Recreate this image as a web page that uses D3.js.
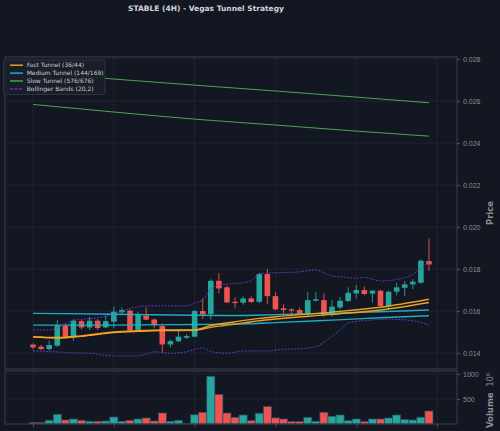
<!DOCTYPE html>
<html lang="en">
<head>
<meta charset="UTF-8">
<title>STABLE (4H) - Vegas Tunnel Strategy</title>
<script src="https://d3js.org/d3.v7.min.js"></script>
<style>
  body { margin: 0; background: #131722; }
  svg { display: block; font-family: "DejaVu Sans", sans-serif; }
  .axis path { display: none; }
  .axis line { stroke: #50545e; }
  .axis text { fill: #8a8e98; font-size: 7px; }
  .grid { stroke: #232733; stroke-width: 0.8; }
  .spine { fill: none; stroke: #363a45; stroke-width: 1.2; }
</style>
</head>
<body>
<svg id="chart" width="500" height="431"></svg>
<script>
// ---- data (50 x 4H candles) ----
const openP  = [0.01440,0.01430,0.01419,0.01435,0.01529,0.01481,0.01552,0.01522,0.01554,0.01522,
                0.01549,0.01594,0.01602,0.01510,0.01578,0.01560,0.01529,0.01441,0.01456,0.01473,
                0.01478,0.01600,0.01586,0.01744,0.01713,0.01644,0.01640,0.01660,0.01644,0.01776,
                0.01671,0.01613,0.01608,0.01605,0.01586,0.01649,0.01652,0.01581,0.01617,0.01648,
                0.01684,0.01700,0.01683,0.01697,0.01624,0.01692,0.01711,0.01727,0.01735,0.01838];
const highP  = [0.01446,0.01439,0.01459,0.01557,0.01541,0.01560,0.01560,0.01573,0.01562,0.01578,
                0.01621,0.01616,0.01608,0.01597,0.01618,0.01565,0.01541,0.01465,0.01510,0.01490,
                0.01605,0.01660,0.01751,0.01782,0.01722,0.01665,0.01670,0.01670,0.01782,0.01800,
                0.01690,0.01632,0.01613,0.01618,0.01690,0.01689,0.01684,0.01652,0.01668,0.01713,
                0.01724,0.01718,0.01700,0.01700,0.01697,0.01735,0.01744,0.01751,0.01846,0.01946];
const lowP   = [0.01418,0.01414,0.01411,0.01430,0.01475,0.01459,0.01513,0.01510,0.01510,0.01518,
                0.01518,0.01586,0.01502,0.01502,0.01557,0.01518,0.01399,0.01427,0.01454,0.01467,
                0.01476,0.01562,0.01560,0.01684,0.01638,0.01613,0.01630,0.01638,0.01637,0.01632,
                0.01605,0.01586,0.01586,0.01581,0.01576,0.01646,0.01573,0.01573,0.01608,0.01644,
                0.01660,0.01676,0.01640,0.01622,0.01605,0.01675,0.01671,0.01705,0.01730,0.01792];
const closeP = [0.01427,0.01419,0.01438,0.01532,0.01478,0.01554,0.01522,0.01554,0.01519,0.01552,
                0.01597,0.01605,0.01508,0.01581,0.01559,0.01533,0.01441,0.01457,0.01478,0.01481,
                0.01600,0.01584,0.01744,0.01708,0.01641,0.01638,0.01660,0.01643,0.01776,0.01671,
                0.01608,0.01605,0.01602,0.01586,0.01652,0.01656,0.01581,0.01621,0.01649,0.01687,
                0.01700,0.01681,0.01697,0.01624,0.01692,0.01713,0.01727,0.01740,0.01840,0.01822];
// volume in millions
const volume = [30,30,75,195,80,100,75,55,55,60,140,55,75,100,120,60,220,55,75,5,
                185,235,955,590,220,135,180,68,215,350,122,100,48,48,135,55,235,155,180,68,
                100,48,100,100,120,180,90,80,135,260];

// indicator lines, [candle index, price]
const fastA = [[0,0.01478],[3,0.01474],[6,0.01482],[10,0.01500],[13,0.01506],[16,0.01510],[20,0.01510],
               [22,0.01531],[25,0.01549],[28,0.01565],[30,0.01573],[37,0.01595],[43,0.01618],[49,0.01656]];
const fastB = [[0,0.01476],[3,0.01472],[6,0.01480],[10,0.01497],[13,0.01503],[16,0.01507],[20,0.01508],
               [22,0.01522],[25,0.01538],[28,0.01554],[30,0.01562],[37,0.01584],[43,0.01605],[49,0.01641]];
const medA  = [[0,0.01589],[10,0.01585],[20,0.01580],[25,0.01579],[30,0.01583],[37,0.01590],[43,0.01597],[49,0.01605]];
const medB  = [[0,0.01533],[10,0.01533],[20,0.01536],[25,0.01538],[30,0.01545],[37,0.01557],[43,0.01568],[49,0.01578]];
const slowA = [[0,0.02736],[10,0.02705],[20,0.02676],[30,0.02648],[40,0.02619],[49,0.02592]];
const slowB = [[0,0.02584],[10,0.02548],[20,0.02514],[30,0.02486],[40,0.02457],[49,0.02433]];
const bbUpper = [[0,0.01510],[2,0.01510],[3,0.01520],[5,0.01555],[8,0.01568],[10,0.01585],[12,0.01612],
                 [14,0.01625],[19,0.01625],[20,0.01638],[21,0.01652],[22,0.01705],[23,0.01724],[25,0.01731],
                 [26,0.01735],[27,0.01743],[28,0.01779],[30,0.01782],[33,0.01787],[35,0.01795],[36,0.01782],
                 [37,0.01767],[38,0.01764],[40,0.01756],[41,0.01760],[43,0.01743],[45,0.01751],[47,0.01775],
                 [48,0.01805],[49,0.01833]];
const bbLower = [[0,0.01410],[2,0.01407],[5,0.01401],[7,0.01399],[10,0.01386],[13,0.01386],[14,0.01394],
                 [15,0.01406],[17,0.01399],[19,0.01406],[21,0.01425],[22,0.01407],[24,0.01399],[26,0.01410],
                 [29,0.01410],[31,0.01418],[33,0.01421],[35,0.01430],[36,0.01452],[37,0.01481],[38,0.01510],
                 [39,0.01544],[41,0.01554],[44,0.01561],[47,0.01554],[49,0.01533]];

const priceTicks = [0.014,0.016,0.018,0.020,0.022,0.024,0.026,0.028];
const volTicks = [500,1000];
const xTicks = [0,10,20,30,40,50];

const legendItems = [
  {label:"Fast Tunnel (36/44)", color:"#f5a623", dash:null},
  {label:"Medium Tunnel (144/169)", color:"#1fb5cc", dash:null},
  {label:"Slow Tunnel (576/676)", color:"#4caf50", dash:null},
  {label:"Bollinger Bands (20,2)", color:"#5b3cc4", dash:"3,1.5"}
];

const UP = "#26a69a", DOWN = "#ef5350";

const svg = d3.select("#chart");
svg.append("rect").attr("width",500).attr("height",431).attr("fill","#131722");

const L = 5, R = 457;
const pTop = 57, pBot = 369, vTop = 371, vBot = 424;

const x = d3.scaleLinear().domain([-3.47, 52.47]).range([L, R]);
const y = d3.scaleLinear().domain([0.01324, 0.02810]).range([pBot, pTop]);
const yv = d3.scaleLinear().domain([0, 1060]).range([vBot, vTop]);

// grid
const grid = svg.append("g");
xTicks.forEach(t => {
  grid.append("line").attr("class","grid").attr("x1",x(t)).attr("x2",x(t)).attr("y1",pTop).attr("y2",pBot);
  grid.append("line").attr("class","grid").attr("x1",x(t)).attr("x2",x(t)).attr("y1",vTop).attr("y2",vBot);
});
priceTicks.forEach(t => {
  grid.append("line").attr("class","grid").attr("x1",L).attr("x2",R).attr("y1",y(t)).attr("y2",y(t));
});
volTicks.forEach(t => {
  grid.append("line").attr("class","grid").attr("x1",L).attr("x2",R).attr("y1",yv(t)).attr("y2",yv(t));
});

// volume bars
const step = x(1) - x(0);
svg.append("g").selectAll("rect").data(volume).join("rect")
  .attr("x",(d,i)=>x(i)-step/2)
  .attr("y",d=>yv(d))
  .attr("width",step)
  .attr("height",d=>yv(0)-yv(d))
  .attr("fill",(d,i)=>closeP[i]>=openP[i]?UP:DOWN)
  .attr("stroke","#2c4a6c")
  .attr("stroke-width",0.7);

// candles
const candles = svg.append("g");
const bw = 5.6;
openP.forEach((o,i) => {
  const c = closeP[i], col = c >= o ? UP : DOWN;
  candles.append("line")
    .attr("x1",x(i)).attr("x2",x(i))
    .attr("y1",y(highP[i])).attr("y2",y(lowP[i]))
    .attr("stroke",col).attr("stroke-width",0.9);
  const top = y(Math.max(o,c)), h = Math.max(1.2, Math.abs(y(o)-y(c)));
  candles.append("rect")
    .attr("x",x(i)-bw/2).attr("y",top)
    .attr("width",bw).attr("height",h)
    .attr("fill",col);
});

// indicator lines
const line = d3.line().x(d=>x(d[0])).y(d=>y(d[1])).curve(d3.curveMonotoneX);
function drawLine(data, color, width, dash) {
  const p = svg.append("path").datum(data)
    .attr("d",line).attr("fill","none")
    .attr("stroke",color).attr("stroke-width",width)
    .attr("stroke-opacity",0.95);
  if (dash) p.attr("stroke-dasharray",dash);
}
drawLine(slowA,"#4caf50",1);
drawLine(slowB,"#4caf50",1);
drawLine(medA,"#1fb5cc",1.4);
drawLine(medB,"#1fb5cc",1.4);
drawLine(fastA,"#f5a623",1.4);
drawLine(fastB,"#f5a623",1.4);
drawLine(bbUpper,"#5b3cc4",1,"2,1.3");
drawLine(bbLower,"#5b3cc4",1,"2,1.3");

// spines
svg.append("rect").attr("class","spine").attr("x",L).attr("y",pTop).attr("width",R-L).attr("height",pBot-pTop);
svg.append("rect").attr("class","spine").attr("x",L).attr("y",vTop).attr("width",R-L).attr("height",vBot-vTop);

// axes
svg.append("g").attr("class","axis").attr("transform",`translate(${R},0)`)
  .call(d3.axisRight(y).tickValues(priceTicks).tickSize(3).tickPadding(3).tickFormat(d3.format(".3f")));
svg.append("g").attr("class","axis").attr("transform",`translate(${R},0)`)
  .call(d3.axisRight(yv).tickValues(volTicks).tickSize(3).tickPadding(3).tickFormat(d3.format("d")));
svg.append("g").attr("class","axis").attr("transform",`translate(0,${vBot})`)
  .call(d3.axisBottom(x).tickValues(xTicks).tickSize(3).tickFormat(""));

// axis labels
svg.append("text").attr("transform","translate(493,213) rotate(-90)")
  .attr("text-anchor","middle").attr("fill","#8a8e98")
  .attr("font-size",8.5).attr("font-weight","bold").text("Price");
const vl = svg.append("text").attr("transform","translate(493,428) rotate(-90)")
  .attr("text-anchor","start").attr("fill","#8a8e98")
  .attr("font-size",8.5).attr("font-weight","bold");
vl.append("tspan").text("Volume");
vl.append("tspan").attr("dx",6).attr("font-weight","normal").attr("font-size",8).text("10");
vl.append("tspan").attr("dy",-3.5).attr("font-weight","normal").attr("font-size",5.5).text("6");

// title
svg.append("text").attr("x",206).attr("y",11)
  .attr("text-anchor","middle").attr("fill","#d1d4dc")
  .attr("font-size",7.5).attr("font-weight","bold")
  .text("STABLE (4H) - Vegas Tunnel Strategy");

// legend
const lg = svg.append("g");
lg.append("rect").attr("x",3.5).attr("y",60).attr("width",101.5).attr("height",34.5)
  .attr("rx",2).attr("fill","#1b1f2a").attr("fill-opacity",0.9)
  .attr("stroke","#363a45").attr("stroke-width",0.8);
legendItems.forEach((d,i) => {
  const cy = 65.2 + i*7.9;
  const ln = lg.append("line").attr("x1",10).attr("x2",23).attr("y1",cy).attr("y2",cy)
    .attr("stroke",d.color).attr("stroke-width",1.4);
  if (d.dash) ln.attr("stroke-dasharray",d.dash);
  lg.append("text").attr("x",26.7).attr("y",cy+2.1)
    .attr("fill","#c9ccd3").attr("font-size",6).text(d.label);
});
</script>
</body>
</html>
